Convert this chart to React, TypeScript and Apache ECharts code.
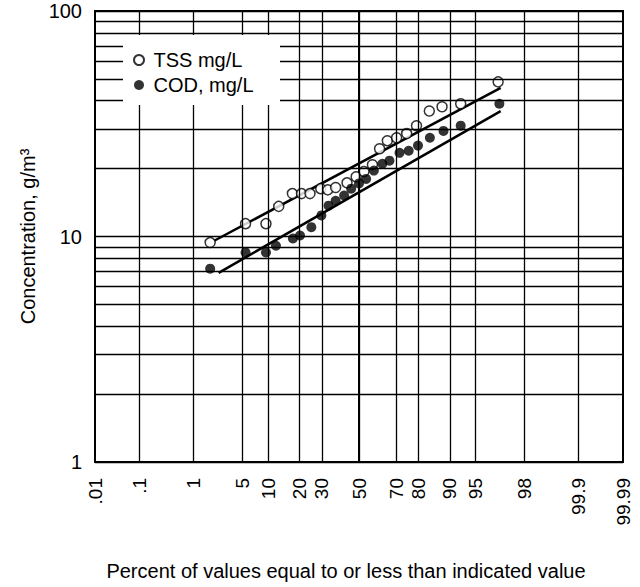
import React, { useEffect, useRef } from "react";
import * as echarts from "echarts";

// Probability-axis ticks (percent) and the text printed for each
const PCT_TICKS = [0.01, 0.1, 1, 5, 10, 20, 30, 50, 70, 80, 90, 95, 99, 99.9, 99.99];
const PCT_LABELS = [".01", ".1", "1", "5", "10", "20", "30", "50", "70", "80", "90", "95", "98", "99.9", "99.99"];
// Log-axis minor grid values
const Y_MINOR = [2, 3, 4, 5, 6, 7, 8, 9, 20, 30, 40, 50, 60, 70, 80, 90];

// TSS observations: percent of values <= value, concentration
const TSS_PCT = [1.8, 5.5, 9.5, 12.9, 17.4, 20.9, 24.5, 29.5, 33, 37.1, 43.3, 48.4, 52.8, 57.5, 61.4, 65.5, 70.2, 74.9, 79.1, 83.9, 87.9, 92.4, 97.5];
const TSS_VAL = [9.4, 11.4, 11.4, 13.6, 15.5, 15.5, 15.5, 16.3, 16.1, 16.5, 17.3, 18.4, 19.4, 20.8, 24.5, 26.6, 27.4, 28.6, 31, 36, 37.6, 38.8, 48.5];
// COD observations
const COD_PCT = [1.8, 5.5, 9.5, 12.1, 17.6, 20.3, 25.1, 29.8, 33.4, 37.1, 41.7, 45.6, 50, 54, 58.3, 62.9, 66.6, 71.6, 75.8, 79.7, 84.1, 88.3, 92.4, 97.6];
const COD_VAL = [7.2, 8.5, 8.5, 9.1, 9.8, 10.1, 11, 12.4, 13.7, 14.4, 15.2, 16.3, 17.2, 18, 19.6, 21, 21.7, 23.5, 24, 25.3, 27.4, 29.4, 31, 38.8];
// Fitted lines (end points)
const TSS_FIT_PCT = [2.1, 97.7];
const TSS_FIT_VAL = [9.6, 45.6];
const COD_FIT_PCT = [2.4, 97.7];
const COD_FIT_VAL = [6.9, 36];

function probit(p: number): number {
  const a = [-3.969683028665376e1, 2.209460984245205e2, -2.759285104469687e2, 1.38357751867269e2, -3.066479806614716e1, 2.506628277459239];
  const b = [-5.447609879822406e1, 1.615858368580409e2, -1.556989798598866e2, 6.680131188771972e1, -1.328068155288572e1];
  const c = [-7.784894002430293e-3, -3.223964580411365e-1, -2.400758277161838, -2.549732539343734, 4.374664141464968, 2.938163982698783];
  const d = [7.784695709041462e-3, 3.224671290700398e-1, 2.445134137142996, 3.754408661907416];
  const pl = 0.02425;
  const ph = 1 - pl;
  if (p < pl) {
    const q = Math.sqrt(-2 * Math.log(p));
    return (((((c[0] * q + c[1]) * q + c[2]) * q + c[3]) * q + c[4]) * q + c[5]) / ((((d[0] * q + d[1]) * q + d[2]) * q + d[3]) * q + 1);
  }
  if (p <= ph) {
    const q = p - 0.5;
    const r = q * q;
    return ((((((a[0] * r + a[1]) * r + a[2]) * r + a[3]) * r + a[4]) * r + a[5]) * q) / (((((b[0] * r + b[1]) * r + b[2]) * r + b[3]) * r + b[4]) * r + 1);
  }
  const q = Math.sqrt(-2 * Math.log(1 - p));
  return -(((((c[0] * q + c[1]) * q + c[2]) * q + c[3]) * q + c[4]) * q + c[5]) / ((((d[0] * q + d[1]) * q + d[2]) * q + d[3]) * q + 1);
}

const z = (pct: number) => probit(pct / 100);
const FONT = "'Liberation Sans', Arial, Helvetica, sans-serif";

export default function App() {
  const ref = useRef<HTMLDivElement>(null);

  useEffect(() => {
    if (!ref.current) return;
    const chart = echarts.init(ref.current, undefined, { renderer: "svg" });
    const tickZ = PCT_TICKS.map(z);
    const zMin = tickZ[0];
    const zMax = tickZ[tickZ.length - 1];
    const gridLineStyle = { color: "#000", width: 1.3, type: "solid" as const };

    const markData: any[] = [];
    tickZ.slice(1, -1).forEach((v) => markData.push({ xAxis: v }));
    Y_MINOR.forEach((v) => markData.push({ yAxis: v }));

    chart.setOption({
      animation: false,
      backgroundColor: "#fff",
      textStyle: { fontFamily: FONT },
      grid: {
        left: 95,
        right: 17,
        top: 11,
        bottom: 125,
        show: true,
        borderColor: "#000",
        borderWidth: 2,
        backgroundColor: "transparent",
      },
      graphic: [
        {
          type: "rect",
          left: 123,
          top: 35,
          z: 10,
          silent: true,
          shape: { width: 157, height: 70 },
          style: { fill: "#fff" },
        },
      ],
      legend: {
        data: ["TSS mg/L", "COD, mg/L"],
        orient: "vertical",
        left: 123,
        top: 35,
        z: 11,
        padding: [15, 25, 10, 10],
        itemGap: 5,
        itemWidth: 19,
        itemHeight: 10,
        textStyle: { fontSize: 20, color: "#000", fontFamily: FONT, lineHeight: 20 },
      },
      xAxis: {
        type: "value",
        min: zMin,
        max: zMax,
        name: "Percent of values equal to or less than indicated value",
        nameLocation: "middle",
        nameGap: 99,
        nameTextStyle: { fontSize: 20, color: "#000", fontFamily: FONT, padding: [0, 26, 0, 0] },
        axisLine: { show: true, lineStyle: { color: "#000", width: 2 } },
        axisTick: { show: false, customValues: tickZ },
        splitLine: { show: false },
        axisLabel: {
          customValues: tickZ,
          showMinLabel: true,
          showMaxLabel: true,
          rotate: 90,
          margin: 16,
          fontSize: 19,
          color: "#000",
          fontFamily: FONT,
          formatter: (v: number) => {
            const i = tickZ.findIndex((t) => Math.abs(t - v) < 1e-6);
            return i >= 0 ? PCT_LABELS[i] : "";
          },
        },
      },
      yAxis: {
        type: "log",
        logBase: 10,
        min: 1,
        max: 100,
        name: "Concentration, g/m³",
        nameLocation: "middle",
        nameGap: 52,
        nameTextStyle: { fontSize: 20, color: "#000", fontFamily: FONT },
        axisLine: { show: true, lineStyle: { color: "#000", width: 2 } },
        axisTick: { show: false },
        splitLine: { show: true, lineStyle: gridLineStyle },
        axisLabel: { fontSize: 20, color: "#000", margin: 13, fontFamily: FONT },
      },
      series: [
        {
          name: "COD fit",
          type: "line",
          z: 1,
          symbol: "none",
          data: COD_FIT_PCT.map((p, i) => [z(p), COD_FIT_VAL[i]]),
          lineStyle: { color: "#000", width: 2.5 },
          markLine: {
            silent: true,
            symbol: ["none", "none"],
            label: { show: false },
            lineStyle: gridLineStyle,
            data: markData,
          },
        },
        {
          name: "TSS fit",
          type: "line",
          z: 2,
          symbol: "none",
          data: TSS_FIT_PCT.map((p, i) => [z(p), TSS_FIT_VAL[i]]),
          lineStyle: { color: "#000", width: 2.5 },
        },
        {
          name: "TSS mg/L",
          type: "scatter",
          z: 3,
          symbol: "circle",
          symbolSize: 10,
          itemStyle: { color: "#fff", borderColor: "#000", borderWidth: 1.5 },
          data: TSS_PCT.map((p, i) => [z(p), TSS_VAL[i]]),
        },
        {
          name: "COD, mg/L",
          type: "scatter",
          z: 4,
          symbol: "circle",
          symbolSize: 10,
          itemStyle: { color: "#000" },
          data: COD_PCT.map((p, i) => [z(p), COD_VAL[i]]),
        },
      ],
    });
    return () => chart.dispose();
  }, []);

  return (
    <div
      ref={ref}
      style={{ position: "fixed", left: 0, top: 0, width: 640, height: 587, background: "#fff" }}
    />
  );
}
